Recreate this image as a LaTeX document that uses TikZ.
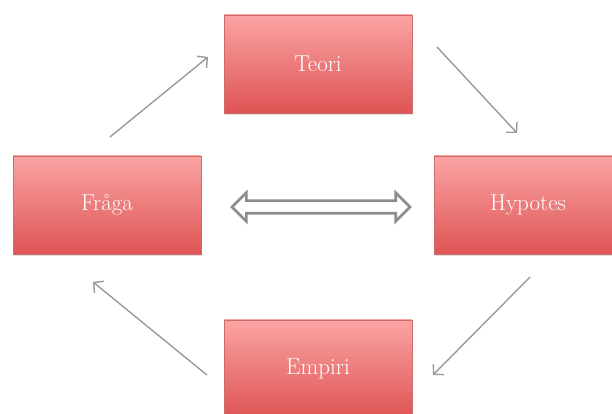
\documentclass[tikz,border=0pt]{standalone}
\usepackage{tikz}
\usetikzlibrary{arrows.meta,shapes.arrows,shadows}
\definecolor{boxtop}{HTML}{FBA4A4}
\definecolor{boxbot}{HTML}{DE5454}
\definecolor{boxedge}{HTML}{D06A6A}
\definecolor{arrgray}{HTML}{9A9A9A}
\definecolor{dblgray}{HTML}{8C8C8C}
\begin{document}
\begin{tikzpicture}[x=1pt,y=1pt,
  stagebox/.style={rectangle, top color=boxtop, bottom color=boxbot, draw=boxedge, line width=0.8pt,
    minimum width=188pt, minimum height=98pt, inner sep=0pt,
    drop shadow={shadow xshift=1pt, shadow yshift=-2pt, opacity=0.25},
    text=white, font=\fontsize{23}{28}\selectfont},
  flowarrow/.style={draw=arrgray, line width=1.4pt, -{Straight Barb[length=7pt,width=15pt]}}
]
\useasboundingbox (0,0) rectangle (612,414);
\begin{scope}
\clip (0,0) rectangle (612,414);
\node[stagebox] (teori) at (318,350) {Teori};
\node[stagebox] (fraga) at (107,209) {Fråga};
\node[stagebox] (hyp) at (528,209) {Hypotes};
\node[stagebox] (emp) at (318,45) {Empiri};
\end{scope}
\node[double arrow, draw=dblgray, line width=2.6pt, fill=white, inner sep=0pt,
  minimum height=178pt, minimum width=28pt, text height=10pt, text width=0pt,
  double arrow head extend=8pt] (dbl) at (321,207) {};
\coordinate (a1s) at (110,277); \coordinate (a1e) at (208,357);
\coordinate (a2s) at (437,367); \coordinate (a2e) at (517,281);
\coordinate (a3s) at (530,137); \coordinate (a3e) at (433,39);
\coordinate (a4s) at (207,39);  \coordinate (a4e) at (93,132);
\draw[flowarrow] (a1s) -- (a1e);
\draw[flowarrow] (a2s) -- (a2e);
\draw[flowarrow] (a3s) -- (a3e);
\draw[flowarrow] (a4s) -- (a4e);
\end{tikzpicture}
\end{document}
